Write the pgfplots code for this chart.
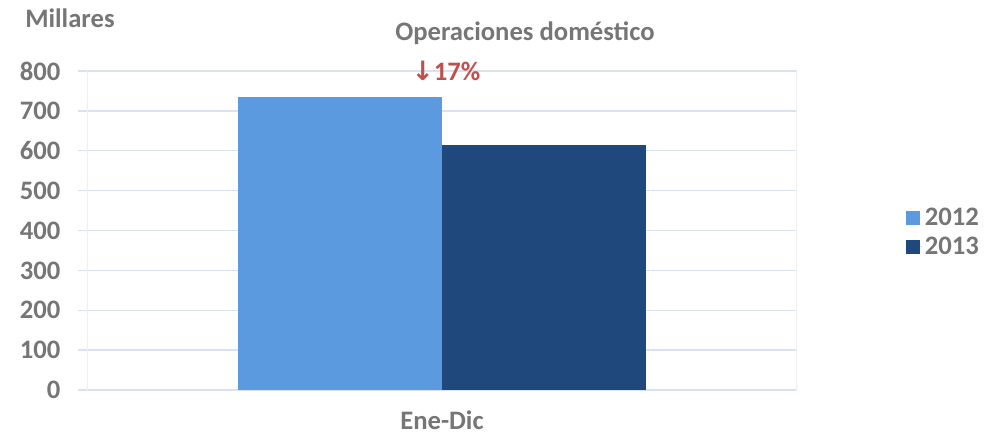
\documentclass[border=0pt]{standalone}
\usepackage{pgfplots}
\pgfplotsset{compat=1.18}
\usepackage{fontspec}
\setmainfont{Carlito}
\newfontfamily\dejavu{DejaVu Sans}
\definecolor{cA}{RGB}{92,154,224}
\definecolor{cB}{RGB}{31,73,125}
\definecolor{gridc}{RGB}{217,226,243}
\definecolor{edgec}{RGB}{240,240,240}
\definecolor{txt}{RGB}{118,118,118}
\definecolor{redc}{RGB}{192,80,77}
\begin{document}
\begin{tikzpicture}
\useasboundingbox (-65.25pt,-36.75pt) rectangle (688.5pt,292.5pt);
\begin{axis}[
  scale only axis,
  width=532.5pt, height=239.25pt,
  xmin=-355, xmax=355, ymin=0, ymax=800,
  ybar=0pt, bar width=204,
  xtick={0}, xticklabels={Ene-Dic},
  ytick={0,100,...,800},
  axis line style={draw=none},
  ymajorgrids, grid style={gridc, line width=1.1pt},
  ytick pos=left, tick align=outside, major tick length=6.75pt,
  ytick style={gridc, line width=1.1pt},
  xtick style={draw=none},
  /pgf/number format/assume math mode=true,
  ticklabel style={font=\fontsize{20}{22}\selectfont\bfseries, text=txt},
  yticklabel style={anchor=east, inner sep=0pt, xshift=-13pt},
  xticklabel style={anchor=north, inner sep=0pt, yshift=-9pt},
  legend style={at={(1.1535,0.495)}, anchor=west, draw=none, fill=none,
    font=\fontsize{20}{22}\selectfont\bfseries, text=txt, row sep=3pt,
    inner sep=0pt},
  legend cell align=left,
  legend image code/.code={\fill[#1,draw=none] (0pt,-5.25pt) rectangle (10.5pt,5.25pt);\path (0pt,0pt) -- (12pt,0pt);},
]
\addplot[fill=cA, draw=none] coordinates {(0,734)};
\addplot[fill=cB, draw=none] coordinates {(0,614)};
\legend{2012,2013}
\draw[edgec, line width=1pt] (axis cs:-355,800) -- ([yshift=-7.5pt]axis cs:-355,0);
\draw[edgec, line width=1pt] (axis cs:355,800) -- ([yshift=-7.5pt]axis cs:355,0);
\end{axis}
\node[anchor=west, inner sep=0pt, text=txt, font=\fontsize{20}{22}\selectfont\bfseries] at (-46.5pt,279pt) {Millares};
\node[inner sep=0pt, text=txt, font=\fontsize{20}{22}\selectfont\bfseries] at (328.5pt,267.75pt) {Operaciones doméstico};
\node[inner sep=0pt, text=redc, font=\fontsize{20}{22}\selectfont\bfseries] at (269.25pt,239.25pt) {{\dejavu\bfseries ↓}17\%};
\end{tikzpicture}
\end{document}
